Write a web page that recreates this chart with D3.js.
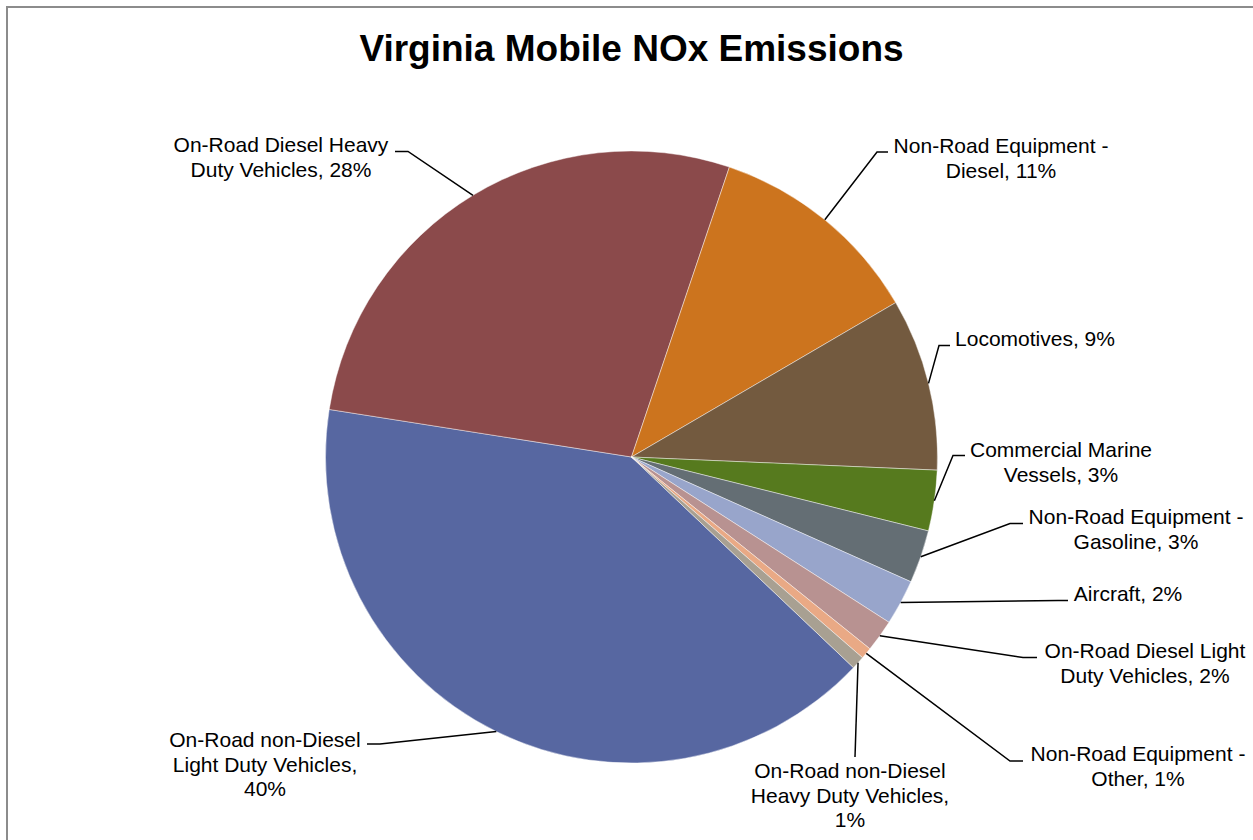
<!DOCTYPE html>
<html lang="en">
<head>
<meta charset="UTF-8">
<title>Virginia Mobile NOx Emissions</title>
<script src="https://cdn.jsdelivr.net/npm/d3@7"></script>
<style>
  body { margin: 0; background: #fff; }
  svg { display: block; font-family: "Liberation Sans", Arial, sans-serif; }
</style>
</head>
<body>
<svg id="chart" width="1253" height="840"></svg>
<script>
// Data (clockwise, first slice starts at ~133.5deg)
const categories = [
  "On-Road non-Diesel Light Duty Vehicles",
  "On-Road Diesel Heavy Duty Vehicles",
  "Non-Road Equipment - Diesel",
  "Locomotives",
  "Commercial Marine Vessels",
  "Non-Road Equipment - Gasoline",
  "Aircraft",
  "On-Road Diesel Light Duty Vehicles",
  "Non-Road Equipment - Other",
  "On-Road non-Diesel Heavy Duty Vehicles"
];
const shares = [40.4, 27.7, 11.4, 9.1, 3.2, 2.8, 2.4, 1.7, 0.6, 0.7];
const colors = ["#5767a1", "#8b4a4b", "#cc741e", "#735a3f", "#567a1e",
                "#646e74", "#98a5cb", "#b89291", "#e9a985", "#a8a092"];

// label placement: text centre x, first baseline y, elbow x/y, end of horizontal stub
const labelPos = [
  {tx: 265,  ty: 747, ex: 380, ey: 744, hx: 367},
  {tx: 281,  ty: 152, ex: 408, ey: 151.5, hx: 395},
  {tx: 1001, ty: 153, ex: 877, ey: 152, hx: 888},
  {tx: 1035, ty: 346, ex: 939, ey: 345.5, hx: 950},
  {tx: 1061, ty: 457, ex: 953, ey: 455.5, hx: 965},
  {tx: 1136, ty: 524, ex: 1010, ey: 523.5, hx: 1023},
  {tx: 1128, ty: 601, ex: 1058, ey: 600.5, hx: 1068},
  {tx: 1145, ty: 658, ex: 1023, ey: 657.5, hx: 1037},
  {tx: 1138, ty: 761, ex: 1010, ey: 761, hx: 1023},
  {tx: 850,  ty: 778, ex: 855, ey: 757, hx: 855}
];

const W = 1253, H = 840;
const cx = 631.5, cy = 457, R = 306;
const startDeg = 133.5;
const lineH = 24.5;
const maxLabelW = 225;

const svg = d3.select("#chart");

// outer frame (right and bottom edges fall outside the picture)
svg.append("rect")
  .attr("x", 7).attr("y", 7)
  .attr("width", W + 20).attr("height", H + 20)
  .attr("fill", "#fff")
  .attr("stroke", "#8c8c8c")
  .attr("stroke-width", 2);

svg.append("text")
  .attr("x", cx).attr("y", 61)
  .attr("text-anchor", "middle")
  .attr("font-size", 37)
  .attr("font-weight", "bold")
  .attr("fill", "#000")
  .text("Virginia Mobile NOx Emissions");

const total = d3.sum(shares);
const start = startDeg * Math.PI / 180;
const pie = d3.pie().sort(null).startAngle(start).endAngle(start + 2 * Math.PI);
const arcs = pie(shares);
const arc = d3.arc().innerRadius(0).outerRadius(R);

const g = svg.append("g").attr("transform", `translate(${cx},${cy})`);

g.selectAll("path.slice")
  .data(arcs).enter()
  .append("path")
  .attr("class", "slice")
  .attr("d", arc)
  .attr("fill", (d, i) => colors[i])
  .attr("stroke", "rgba(255,255,255,0.55)")
  .attr("stroke-width", 0.8);

// leader lines
const edgeArc = d3.arc().innerRadius(R).outerRadius(R);
arcs.forEach((d, i) => {
  const p = edgeArc.centroid(d);
  const L = labelPos[i];
  const pts = [[p[0] + cx, p[1] + cy], [L.ex, L.ey], [L.hx, L.ey]];
  svg.append("path")
    .attr("d", d3.line()(pts))
    .attr("fill", "none")
    .attr("stroke", "#000")
    .attr("stroke-width", 1.5);
});

// labels, word-wrapped to a max width
const labels = svg.append("g")
  .attr("font-size", 21)
  .attr("fill", "#000")
  .attr("text-anchor", "middle");

const measure = svg.append("text").attr("font-size", 21).attr("visibility", "hidden");
function wrap(str) {
  const words = str.split(" ");
  const lines = [];
  let cur = "";
  words.forEach(w => {
    const test = cur ? cur + " " + w : w;
    measure.text(test);
    if (cur && measure.node().getComputedTextLength() > maxLabelW) {
      lines.push(cur);
      cur = w;
    } else {
      cur = test;
    }
  });
  lines.push(cur);
  return lines;
}

categories.forEach((name, i) => {
  const pct = Math.round(shares[i] / total * 100) + "%";
  const lines = wrap(name + ", " + pct);
  const L = labelPos[i];
  const t = labels.append("text").attr("x", L.tx).attr("y", L.ty);
  lines.forEach((ln, k) => {
    t.append("tspan").attr("x", L.tx).attr("y", L.ty + k * lineH).text(ln);
  });
});
measure.remove();
</script>
</body>
</html>
